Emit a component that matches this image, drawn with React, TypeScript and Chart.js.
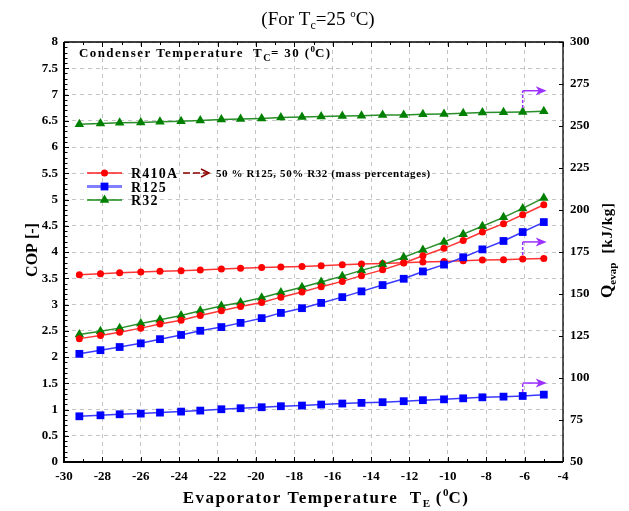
import React, { useEffect, useRef } from "react";
import { Chart, registerables } from "chart.js";

Chart.register(...registerables);

// ---------------- data ----------------
const TE = [-29.2, -28.1, -27.1, -26.0, -25.0, -23.9, -22.9, -21.8, -20.8, -19.7, -18.7, -17.6, -16.6, -15.5, -14.5, -13.4, -12.3, -11.3, -10.2, -9.2, -8.2, -7.1, -6.1, -5.0];

const COP_R410A = [2.35, 2.41, 2.47, 2.55, 2.63, 2.70, 2.79, 2.88, 2.96, 3.04, 3.14, 3.24, 3.34, 3.44, 3.55, 3.66, 3.79, 3.93, 4.07, 4.22, 4.38, 4.54, 4.71, 4.90];
const COP_R125 = [2.06, 2.13, 2.19, 2.26, 2.34, 2.42, 2.50, 2.57, 2.65, 2.74, 2.84, 2.93, 3.03, 3.14, 3.25, 3.37, 3.49, 3.63, 3.76, 3.90, 4.05, 4.21, 4.38, 4.57];
const COP_R32 = [2.43, 2.49, 2.55, 2.64, 2.71, 2.79, 2.88, 2.97, 3.04, 3.13, 3.23, 3.33, 3.43, 3.54, 3.65, 3.76, 3.90, 4.04, 4.19, 4.34, 4.49, 4.66, 4.83, 5.03];

const Q_R410A = [161.5, 162.1, 162.7, 163.1, 163.5, 163.9, 164.3, 164.9, 165.3, 165.7, 166.0, 166.4, 166.8, 167.4, 167.8, 168.2, 168.6, 169.0, 169.4, 169.8, 170.2, 170.4, 170.8, 171.2];
const Q_R125 = [77.2, 77.8, 78.4, 78.8, 79.4, 80.0, 80.6, 81.4, 82.0, 82.6, 83.2, 83.6, 84.2, 84.8, 85.2, 85.6, 86.2, 86.8, 87.3, 87.9, 88.5, 88.9, 89.3, 90.1];
const Q_R32 = [251.1, 251.5, 251.9, 252.1, 252.5, 252.9, 253.3, 253.9, 254.1, 254.5, 255.1, 255.3, 255.7, 255.9, 256.1, 256.5, 256.6, 257.0, 257.2, 257.6, 258.0, 258.2, 258.4, 258.8];

const SERIES_NAMES = ["R410A", "R125", "R32"];
const MIX_NOTE = "50 % R125, 50% R32 (mass percentages)";

const X_MIN = -30, X_MAX = -4, X_STEP = 2;
const Y_MIN = 0, Y_MAX = 8, Y_STEP = 0.5;
const Y2_MIN = 50, Y2_MAX = 300, Y2_STEP = 25;

// arrows pointing Q curves to the right axis (point index, tip value in kJ/kg)
const ARROW_INDEX = 22;
const ARROW_TIPS = [181, 97, 271];
const ARROW_X_END = -4.85;

// ---------------- style ----------------
const FONT = '"Liberation Serif", "Times New Roman", serif';
const COLORS = [
  { point: "#ff0000", line: "#ff3535", legendLine: "#ff2020", style: "circle", radius: 3.5 },
  { point: "#0000ff", line: "#3a3aff", legendLine: "#8080ff", style: "rect", radius: 5.5 },
  { point: "#008000", line: "#2a8f2a", legendLine: "#1a8a1a", style: "triangle", radius: 5.5 },
];
const PURPLE = "#9b30ff";

type Part = { t: string; size: number; dy?: number; bold?: boolean; ls?: number };

function richWidth(ctx: CanvasRenderingContext2D, parts: Part[]) {
  let w = 0;
  for (const p of parts) {
    ctx.font = `${p.bold === false ? "normal" : "bold"} ${p.size}px ${FONT}`;
    (ctx as any).letterSpacing = `${p.ls || 0}px`;
    w += ctx.measureText(p.t).width;
  }
  return w;
}

function drawRich(ctx: CanvasRenderingContext2D, parts: Part[], x: number, y: number, align: "left" | "center") {
  const total = richWidth(ctx, parts);
  let cx = align === "center" ? x - total / 2 : x;
  ctx.textAlign = "left";
  ctx.textBaseline = "alphabetic";
  for (const p of parts) {
    ctx.font = `${p.bold === false ? "normal" : "bold"} ${p.size}px ${FONT}`;
    (ctx as any).letterSpacing = `${p.ls || 0}px`;
    ctx.fillText(p.t, cx, y + (p.dy || 0));
    cx += ctx.measureText(p.t).width;
  }
  (ctx as any).letterSpacing = "0px";
}

function drawMarker(ctx: CanvasRenderingContext2D, style: string, x: number, y: number, r: number, color: string) {
  ctx.fillStyle = color;
  ctx.beginPath();
  if (style === "circle") {
    ctx.arc(x, y, r, 0, Math.PI * 2);
  } else if (style === "rect") {
    const s = Math.SQRT1_2 * r;
    ctx.rect(x - s, y - s, 2 * s, 2 * s);
  } else {
    for (let k = 0; k < 3; k++) {
      const a = (k * 2 * Math.PI) / 3;
      const px = x + Math.sin(a) * r;
      const py = y - Math.cos(a) * r;
      if (k === 0) ctx.moveTo(px, py);
      else ctx.lineTo(px, py);
    }
    ctx.closePath();
  }
  ctx.fill();
}

const decorPlugin = {
  id: "decor",
  afterDatasetsDraw(chart: any) {
    const ctx: CanvasRenderingContext2D = chart.ctx;
    const { left, right, top, bottom } = chart.chartArea;
    const xs = chart.scales.x, ys = chart.scales.y, y2 = chart.scales.y2;
    ctx.save();

    // arrows for Q curves
    for (let k = 0; k < 3; k++) {
      const ds = chart.data.datasets[3 + k];
      const pt = ds.data[ARROW_INDEX];
      const px = xs.getPixelForValue(pt.x);
      const py = y2.getPixelForValue(pt.y);
      const ty = y2.getPixelForValue(ARROW_TIPS[k]);
      const tx = xs.getPixelForValue(ARROW_X_END);
      ctx.strokeStyle = PURPLE;
      ctx.lineWidth = 1.5;
      ctx.setLineDash([3, 2]);
      ctx.beginPath();
      ctx.moveTo(px, py - 4);
      ctx.lineTo(px, ty);
      ctx.stroke();
      ctx.setLineDash([]);
      ctx.beginPath();
      ctx.moveTo(px, ty);
      ctx.lineTo(tx - 6, ty);
      ctx.stroke();
      ctx.fillStyle = PURPLE;
      ctx.beginPath();
      ctx.moveTo(tx, ty);
      ctx.lineTo(tx - 11, ty - 4.5);
      ctx.lineTo(tx - 8, ty);
      ctx.lineTo(tx - 11, ty + 4.5);
      ctx.closePath();
      ctx.fill();
    }

    // frame
    ctx.strokeStyle = "#000";
    ctx.lineWidth = 2;
    ctx.beginPath();
    ctx.moveTo(left, top);
    ctx.lineTo(left, bottom);
    ctx.lineTo(right, bottom);
    ctx.stroke();
    ctx.lineWidth = 1.3;
    ctx.beginPath();
    ctx.moveTo(left, top);
    ctx.lineTo(right, top);
    ctx.lineTo(right, bottom);
    ctx.stroke();

    // minor ticks
    ctx.lineWidth = 1;
    ctx.beginPath();
    for (let i = Y_MIN * 10; i <= Y_MAX * 10; i++) {
      const y = Math.round(ys.getPixelForValue(i / 10)) + 0.5;
      const len = i % 5 === 0 ? 5 : 3.5;
      ctx.moveTo(left, y);
      ctx.lineTo(left + len, y);
    }
    for (let v = X_MIN; v <= X_MAX; v++) {
      const x = Math.round(xs.getPixelForValue(v)) + 0.5;
      const len = v % 2 === 0 ? 5 : 3;
      ctx.moveTo(x, bottom);
      ctx.lineTo(x, bottom - len);
      ctx.moveTo(x, top);
      ctx.lineTo(x, top + len);
    }
    for (let v = Y2_MIN; v <= Y2_MAX; v += Y2_STEP) {
      const y = Math.round(y2.getPixelForValue(v)) + 0.5;
      ctx.moveTo(right, y);
      ctx.lineTo(right - 4, y);
    }
    ctx.stroke();

    // legend
    const rows = [173, 186.5, 200];
    for (let k = 0; k < 3; k++) {
      const c = COLORS[k];
      const y = rows[k];
      ctx.strokeStyle = c.legendLine;
      ctx.lineWidth = k === 1 ? 3 : 1.5;
      ctx.beginPath();
      ctx.moveTo(87, y);
      ctx.lineTo(122, y);
      ctx.stroke();
      drawMarker(ctx, c.style, 104.5, y, c.radius, c.point);
      ctx.fillStyle = "#000";
      drawRich(ctx, [{ t: chart.data.datasets[k].label, size: 14, ls: 1.2 }], 131, y + 5, "left");
    }
    // mixture note arrow
    ctx.strokeStyle = "#8b0000";
    ctx.lineWidth = 1.5;
    ctx.setLineDash([7, 3]);
    ctx.beginPath();
    ctx.moveTo(183, rows[0]);
    ctx.lineTo(207, rows[0]);
    ctx.stroke();
    ctx.setLineDash([]);
    ctx.beginPath();
    ctx.moveTo(201, rows[0] - 4);
    ctx.lineTo(209, rows[0]);
    ctx.lineTo(201, rows[0] + 4);
    ctx.stroke();
    ctx.fillStyle = "#000";
    drawRich(ctx, [{ t: MIX_NOTE, size: 11, ls: 0.6 }], 216, rows[0] + 4, "left");

    // condenser temperature note
    drawRich(ctx, [
      { t: "Condenser Temperature  T", size: 13, ls: 1.4 },
      { t: "C", size: 10, dy: 4, ls: 0.5 },
      { t: "= 30 (", size: 13, ls: 1.4 },
      { t: "0", size: 9, dy: -5 },
      { t: "C)", size: 13, ls: 1.4 },
    ], 79, 57, "left");

    // main title
    drawRich(ctx, [
      { t: "(For T", size: 19, bold: false },
      { t: "c", size: 12, dy: 4, bold: false },
      { t: "=25 ", size: 19, bold: false },
      { t: "o", size: 11, dy: -8, bold: false },
      { t: "C)", size: 19, bold: false },
    ], 318, 25, "center");

    // x-axis title
    drawRich(ctx, [
      { t: "Evaporator Temperature  T", size: 17, ls: 1.5 },
      { t: "E", size: 11, dy: 4 },
      { t: " (", size: 17, ls: 1.5 },
      { t: "0", size: 11, dy: -7 },
      { t: "C)", size: 17, ls: 1.5 },
    ], 326, 503, "center");

    // left y title
    ctx.save();
    ctx.translate(31, 250);
    ctx.rotate(-Math.PI / 2);
    drawRich(ctx, [{ t: "COP [-]", size: 16 }], 0, 6, "center");
    ctx.restore();

    // right y title
    ctx.save();
    ctx.translate(606, 250);
    ctx.rotate(-Math.PI / 2);
    drawRich(ctx, [
      { t: "Q", size: 17 },
      { t: "evap", size: 11, dy: 4 },
      { t: "  [kJ/kg]", size: 15, ls: 0.8 },
    ], 0, 6, "center");
    ctx.restore();

    ctx.restore();
  },
};

function makeDatasets() {
  const cops = [COP_R410A, COP_R125, COP_R32];
  const qs = [Q_R410A, Q_R125, Q_R32];
  const mk = (vals: number[], k: number, axis: string, label: string) => ({
    label,
    data: TE.map((x, i) => ({ x, y: vals[i] })),
    yAxisID: axis,
    borderColor: COLORS[k].line,
    backgroundColor: COLORS[k].point,
    pointBackgroundColor: COLORS[k].point,
    pointBorderColor: COLORS[k].point,
    pointStyle: COLORS[k].style,
    pointRadius: COLORS[k].radius,
    pointBorderWidth: 0,
    borderWidth: 1.5,
    tension: 0,
    fill: false,
  });
  return [
    ...cops.map((v, k) => mk(v, k, "y", SERIES_NAMES[k])),
    ...qs.map((v, k) => mk(v, k, "y2", SERIES_NAMES[k] + " Q")),
  ];
}

const tickFont = { family: FONT, size: 13, weight: "bold" as const };

export default function App() {
  const ref = useRef<HTMLCanvasElement>(null);
  useEffect(() => {
    document.body.style.margin = "0";
    const chart = new Chart(ref.current!, {
      type: "line",
      data: { datasets: makeDatasets() as any },
      options: {
        animation: false,
        responsive: false,
        layout: { padding: { top: 42, left: 0, right: 0, bottom: 0 } },
        plugins: { legend: { display: false }, tooltip: { enabled: false }, title: { display: false } },
        scales: {
          x: {
            type: "linear",
            min: X_MIN,
            max: X_MAX,
            afterFit: (s: any) => { s.height = 49; },
            ticks: { stepSize: X_STEP, font: tickFont, color: "#000", padding: 7, callback: (v: any) => String(v), maxRotation: 0, autoSkip: false },
            grid: { color: "#c4c4c4", lineWidth: 1, drawTicks: false },
            border: { display: false, dash: [4, 4] },
          },
          y: {
            type: "linear",
            position: "left",
            min: Y_MIN,
            max: Y_MAX,
            afterFit: (s: any) => { s.width = 64; },
            ticks: { stepSize: Y_STEP, font: tickFont, color: "#000", padding: 6, callback: (v: any) => String(v), autoSkip: false },
            grid: { color: "#c4c4c4", lineWidth: 1, drawTicks: false },
            border: { display: false, dash: [4, 4] },
          },
          y2: {
            type: "linear",
            position: "right",
            min: Y2_MIN,
            max: Y2_MAX,
            afterFit: (s: any) => { s.width = 66; },
            ticks: { stepSize: Y2_STEP, font: tickFont, color: "#000", padding: 7, callback: (v: any) => String(v), autoSkip: false },
            grid: { display: false, drawTicks: false },
            border: { display: false },
          },
        },
      } as any,
      plugins: [decorPlugin],
    });
    return () => chart.destroy();
  }, []);
  return (
    <div style={{ width: 629, height: 511, position: "relative" }}>
      <canvas ref={ref} width={629} height={511} style={{ display: "block" }} />
    </div>
  );
}
